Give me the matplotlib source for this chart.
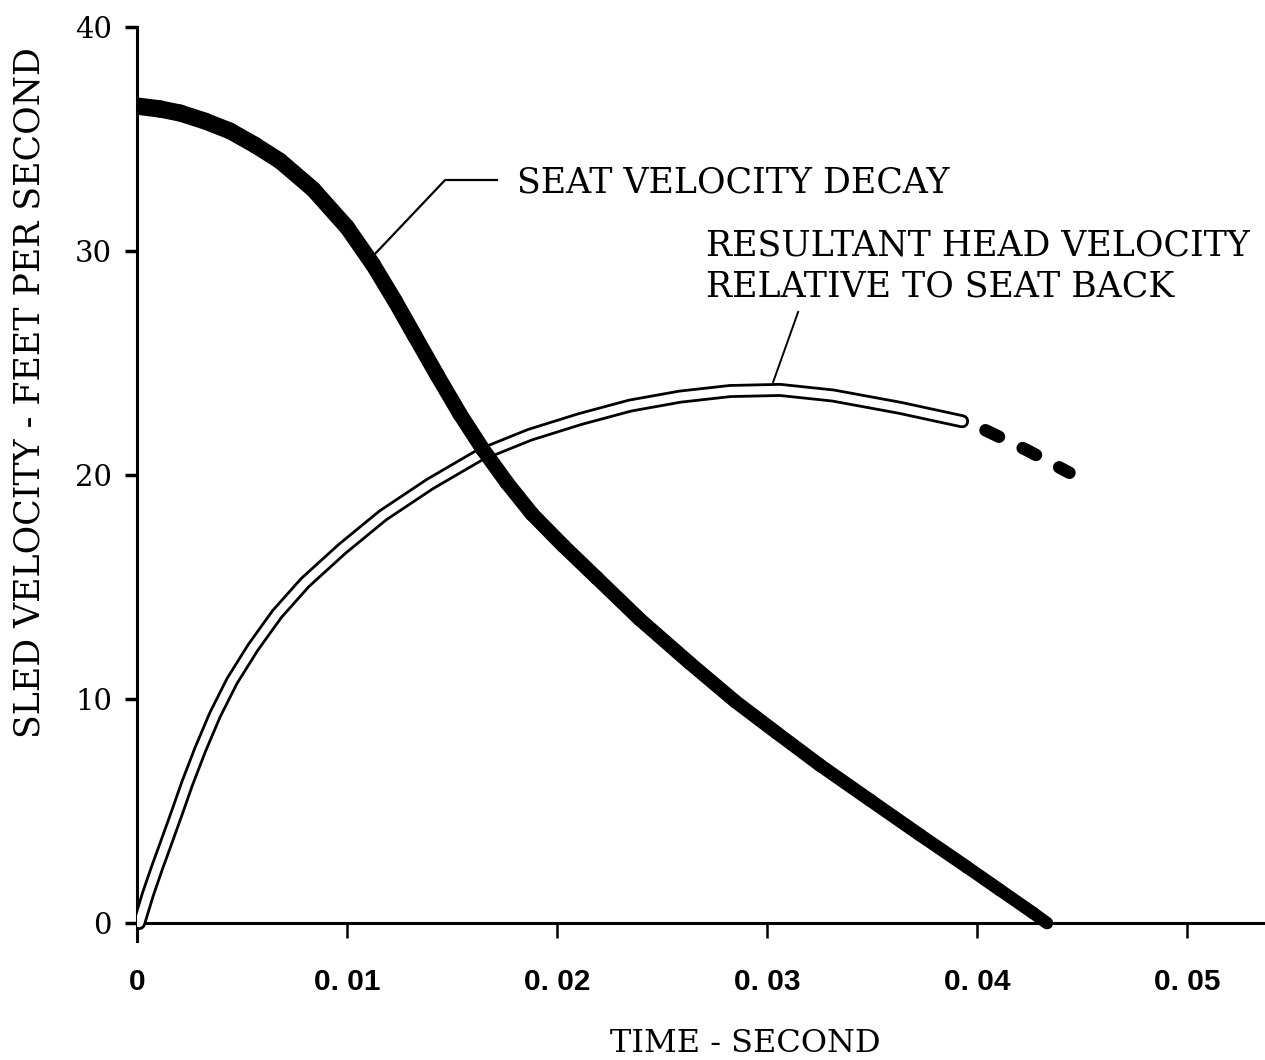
import numpy as np
import matplotlib.pyplot as plt
from matplotlib.collections import LineCollection

# seat velocity decay (thick black curve)
seat_t = [0.0, 0.0011, 0.00205, 0.00324, 0.00443, 0.00562, 0.00681, 0.00838,
          0.01, 0.01124, 0.01229, 0.01324, 0.01429, 0.01538, 0.01648, 0.01762,
          0.01881, 0.02029, 0.0219, 0.02395, 0.02633, 0.02848, 0.03048,
          0.03252, 0.0349, 0.03729, 0.03952, 0.0411, 0.04267, 0.04333]
seat_v = [36.47, 36.34, 36.16, 35.8, 35.36, 34.73, 34.02, 32.76,
          31.06, 29.39, 27.76, 26.19, 24.46, 22.72, 21.13, 19.65,
          18.26, 16.85, 15.4, 13.55, 11.6, 9.9, 8.48,
          7.05, 5.49, 3.93, 2.5, 1.47, 0.45, 0.0]

# resultant head velocity relative to seat back (double line)
head_t = [0.0001, 0.00052, 0.00095, 0.00138, 0.00186, 0.00238, 0.003,
          0.00371, 0.00452, 0.00552, 0.00667, 0.008, 0.00976, 0.01171,
          0.01395, 0.01633, 0.01871, 0.0211, 0.02348, 0.02586, 0.02824,
          0.03062, 0.03314, 0.03633, 0.03929]
head_v = [0.0, 1.29, 2.46, 3.57, 4.82, 6.21, 7.72,
          9.29, 10.8, 12.3, 13.8, 15.2, 16.7, 18.2,
          19.6, 20.9, 21.8, 22.5, 23.1, 23.5, 23.75,
          23.8, 23.55, 23.0, 22.4]

# extrapolated part (dashed)
dash_t = [0.0404, 0.0424, 0.0444]
dash_v = [22.0, 21.1, 20.1]

xticks = [0, 0.01, 0.02, 0.03, 0.04, 0.05]
xticklabels = ['0', '0. 01', '0. 02', '0. 03', '0. 04', '0. 05']
yticks = [0, 10, 20, 30, 40]

fig = plt.figure(figsize=(12.65, 10.6), dpi=100)
ax = fig.add_axes([0.1083, 0.11226, 0.8917, 0.86227])
ax.set_xlim(0, 0.05371)
ax.set_ylim(-0.8, 40)

# head curve: black outline with white core
ax.plot(head_t, head_v, color='black', lw=10, solid_capstyle='round',
        solid_joinstyle='round', zorder=2)
ax.plot(head_t, head_v, color='white', lw=6, solid_capstyle='round',
        solid_joinstyle='round', zorder=3)
ax.plot(dash_t, dash_v, color='black', lw=9, dashes=(1.2, 2.1),
        dash_capstyle='round', zorder=3)

# seat curve, thinning toward the end
pts = np.column_stack([seat_t, seat_v])
segs = np.stack([pts[:-1], pts[1:]], axis=1)
widths = np.linspace(12.5, 9, len(segs))
lc = LineCollection(segs, colors='black', linewidths=widths,
                    capstyle='round', joinstyle='round', zorder=4)
ax.add_collection(lc)

# leader lines
ax.plot([0.01119, 0.01467, 0.01714], [29.73, 33.17, 33.17],
        color='black', lw=1.6, zorder=5)
ax.plot([0.03148, 0.03029], [27.28, 24.15], color='black', lw=1.4, zorder=5)

txt = dict(family='DejaVu Serif', fontsize=25, color='black')
ax.text(0.0181, 32.6, 'SEAT VELOCITY DECAY', ha='left', va='baseline', **txt)
ax.text(0.0271, 29.82, 'RESULTANT HEAD VELOCITY', ha='left', va='baseline', **txt)
ax.text(0.0271, 27.99, 'RELATIVE TO SEAT BACK', ha='left', va='baseline', **txt)

# axes styling
for s in ['top', 'right']:
    ax.spines[s].set_visible(False)
ax.spines['bottom'].set_position(('data', 0))
ax.spines['left'].set_linewidth(2.2)
ax.spines['bottom'].set_linewidth(2.2)

ax.set_xticks(xticks)
ax.set_xticklabels(xticklabels, family='Liberation Sans', fontweight='bold',
                   fontsize=21.5)
ax.set_yticks(yticks)
ax.set_yticklabels([str(v) for v in yticks], family='DejaVu Serif', fontsize=21)
ax.tick_params(axis='x', direction='out', length=11, width=1.8, pad=21)
ax.tick_params(axis='y', direction='out', length=9, width=2.5, pad=9)

fig.text(30 / 1265, 1 - 393 / 1060, 'SLED VELOCITY - FEET PER SECOND',
         rotation=90, ha='center', va='center', family='DejaVu Serif',
         fontsize=25)
fig.text(745 / 1265, 1 - 1043 / 1060, 'TIME - SECOND', ha='center',
         va='center', family='DejaVu Serif', fontsize=23)

fig.savefig('out.png', dpi=100)
